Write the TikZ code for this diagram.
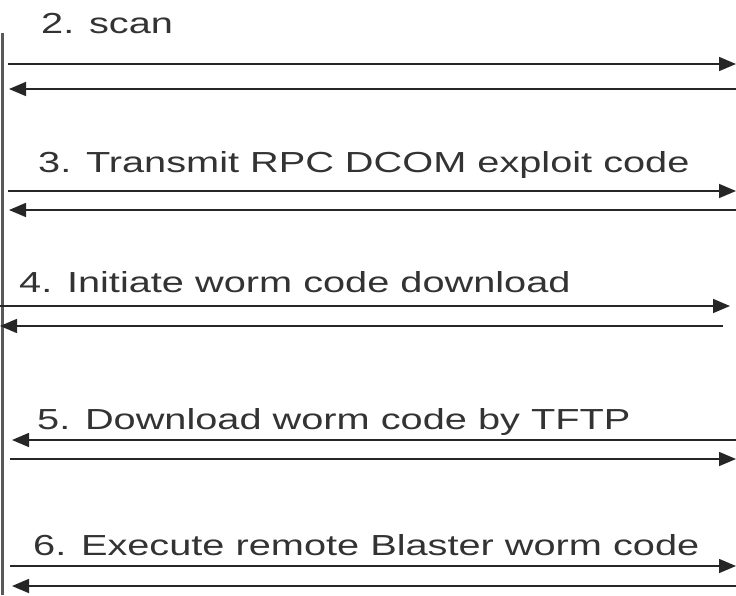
\documentclass[tikz,border=0pt]{standalone}
\usepackage{fontspec}
\setmainfont{Liberation Sans}
\usetikzlibrary{arrows.meta}
\begin{document}
\begin{tikzpicture}[x=1pt,y=-1pt,
  msg/.style={line width=1.6pt,draw=black!85,-{Triangle[length=17pt,width=14pt]}},
  lbl/.style={anchor=base west,inner sep=0pt,text=black!80,font=\fontsize{29}{32}\selectfont},
  life/.style={line width=3pt,draw=black!65}]
\useasboundingbox (0,0) rectangle (736,595);
% lifeline
\coordinate (ltop) at (2,33);
\coordinate (lbot) at (2,595);
\draw[life] (ltop) -- (lbot);
% labels
\node[lbl] (t2) at (41,33) {\scalebox{1.37}[1]{2. scan}};
\node[lbl] (t3) at (38,172) {\scalebox{1.37}[1]{3. Transmit RPC DCOM exploit code}};
\node[lbl] (t4) at (19,292) {\scalebox{1.37}[1]{4. Initiate worm code download}};
\node[lbl] (t5) at (37,429) {\scalebox{1.37}[1]{5. Download worm code by TFTP}};
\node[lbl] (t6) at (33,555) {\scalebox{1.37}[1]{6. Execute remote Blaster worm code}};
% endpoints
\coordinate (a1l) at (8,64);   \coordinate (a1r) at (736,64);
\coordinate (b1l) at (9,89);   \coordinate (b1r) at (736,89);
\coordinate (a2l) at (8,191);  \coordinate (a2r) at (736,191);
\coordinate (b2l) at (9,210);  \coordinate (b2r) at (736,210);
\coordinate (a3l) at (0,306);  \coordinate (a3r) at (730,306);
\coordinate (b3l) at (0,326);  \coordinate (b3r) at (723,326);
\coordinate (a4l) at (12,440); \coordinate (a4r) at (736,440);
\coordinate (b4l) at (10,459); \coordinate (b4r) at (736,459);
\coordinate (a5l) at (10,566); \coordinate (a5r) at (736,566);
\coordinate (b5l) at (12,586); \coordinate (b5r) at (736,586);
% messages
\draw[msg] (a1l) -- (a1r);
\draw[msg] (b1r) -- (b1l);
\draw[msg] (a2l) -- (a2r);
\draw[msg] (b2r) -- (b2l);
\draw[msg] (a3l) -- (a3r);
\draw[msg] (b3r) -- (b3l);
\draw[msg] (a4r) -- (a4l);
\draw[msg] (b4l) -- (b4r);
\draw[msg] (a5l) -- (a5r);
\draw[msg] (b5r) -- (b5l);
\end{tikzpicture}
\end{document}
